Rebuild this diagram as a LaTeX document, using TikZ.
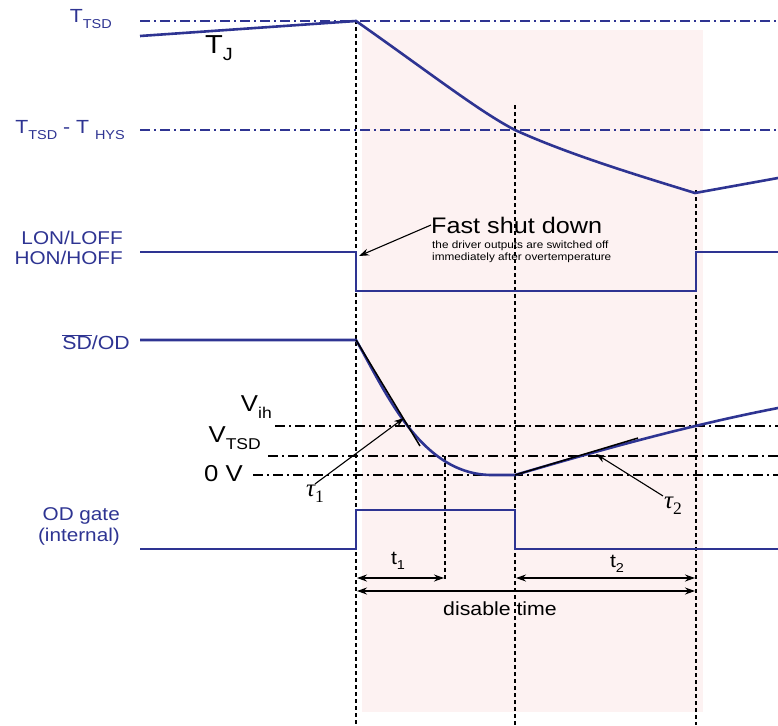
\documentclass[tikz,border=0pt]{standalone}
\usepackage{fontspec}
\setmainfont[FakeStretch=1.12]{Liberation Sans}
\newfontfamily\taufont{Liberation Serif}
\usetikzlibrary{arrows.meta}
\definecolor{tiblue}{RGB}{46,52,146}
\definecolor{offzone}{RGB}{253,242,242}
\newcommand{\lowsub}[2][0.68]{\raisebox{-0.28em}{\scalebox{#1}{#2}}}
\newcommand{\tauconst}[1]{{\taufont\itshape τ}\raisebox{-0.25em}{\scalebox{0.7}{\taufont #1}}}

\begin{document}
\begin{tikzpicture}[x=1pt, y=-1pt, >={Stealth[length=10pt,width=7pt]},
    wave/.style={draw=tiblue, line width=2.6pt},
    vline/.style={dash pattern=on 4pt off 3pt, line width=1.4pt},
    level/.style={dash pattern=on 10pt off 4pt on 2pt off 4pt, line width=1.4pt},
    sig/.style={text=tiblue, anchor=east, align=right, inner sep=0pt, font=\fontsize{19}{20}\selectfont},
    vlbl/.style={anchor=east, inner sep=0pt, font=\fontsize{23}{24}\selectfont},
    tlbl/.style={inner sep=0pt, font=\fontsize{19}{20}\selectfont}]
    \useasboundingbox (0,0) rectangle (778,725);
    % Vùng tắt (disable)
    \fill[offzone] (362,30) rectangle (703,712);
    % Các mức ngưỡng
    \draw[level, tiblue] (140,21) -- (778,21);
    \draw[level, tiblue] (140,130) -- (778,130);
    \draw[level] (275,426) -- (778,426);
    \draw[level] (268,456) -- (778,456);
    \draw[level] (253,475) -- (778,475);
    % Các mốc thời gian
    \draw[vline] (356,20) -- (356,725);
    \draw[vline] (515,105) -- (515,725);
    \draw[vline] (696,190) -- (696,725);
    \draw[vline] (445,456) -- (445,580);
    % Nhiệt độ T_J
    \draw[wave] (140,36) -- (356,21) .. controls (430,73) and (480,112) .. (515,130)
        .. controls (570,155) and (640,176) .. (695,193) -- (778,178);
    % LON/LOFF, HON/HOFF
    \draw[wave] (140,252) -- (356,252) -- (356,291) -- (696,291) -- (696,252) -- (778,252);
    % SD/OD
    \draw[wave] (140,340) -- (356,340) .. controls (385,390) and (420,475) .. (492,475) -- (515,475)
        .. controls (600,450) and (690,425) .. (778,408);
    \draw[line width=1.5pt] (356,340) -- (420,446);
    \draw[line width=1.5pt] (515,475) -- (638,438);
    % OD gate
    \draw[wave] (140,549) -- (356,549) -- (356,510) -- (515,510) -- (515,549) -- (778,549);
    % Nhãn bên trái
    \node[sig] (ttsd) at (112,19) {T\lowsub{TSD}};
    \node[sig] (thys) at (125,130) {T\lowsub{TSD} - T \lowsub{HYS}};
    \node[sig, font=\fontsize{18.5}{20}\selectfont] (lon) at (123,248) {LON/LOFF\\HON/HOFF};
    \node[sig] (sdod) at (130,342) {$\overline{\mbox{SD}}$/OD};
    \node[sig, font=\fontsize{18.5}{21}\selectfont] (odgate) at (120,526) {OD gate\\(internal)};
    \node[inner sep=0pt, font=\fontsize{26}{26}\selectfont] (tj) at (219,48) {T\lowsub{J}};
    \node[vlbl] (vih) at (272,407) {V\lowsub{ih}};
    \node[vlbl] (vtsd) at (261,438) {V\lowsub{TSD}};
    \node[vlbl] (zerov) at (243,474) {0 V};
    % Tắt nhanh
    \node[anchor=west, inner sep=0pt, font=\fontsize{22.5}{23}\selectfont] (fsd) at (431,225) {Fast shut down};
    \node[anchor=north west, align=left, inner sep=0pt, font=\fontsize{10.5}{11.5}\selectfont] (fsdnote)
        at (432,241) {the driver outputs are switched off\\immediately after overtemperature};
    \coordinate (lonfall) at (359,256);
    \draw[->, line width=1.1pt] (fsd.west) -- (lonfall);
    % Hằng số thời gian
    \node[inner sep=1pt, font=\fontsize{25}{25}\selectfont] (tau1) at (315,494) {\tauconst{1}};
    \node[inner sep=1pt, font=\fontsize{25}{25}\selectfont] (tau2) at (673,506) {\tauconst{2}};
    \coordinate (tau1tip) at (404,418);
    \coordinate (tau2tip) at (596,454);
    \draw[->, line width=1.1pt] (tau1.north) -- (tau1tip);
    \draw[->, line width=1.1pt] (tau2.north west) -- (tau2tip);
    % t1, t2, disable time
    \coordinate (t1a) at (357,578);
    \coordinate (t1b) at (444,578);
    \coordinate (t2a) at (516,578);
    \coordinate (t2b) at (695,578);
    \coordinate (da) at (357,591);
    \coordinate (db) at (695,591);
    \draw[<->, line width=1.1pt] (t1a) -- (t1b);
    \draw[<->, line width=1.1pt] (t2a) -- (t2b);
    \draw[<->, line width=1.1pt] (da) -- (db);
    \node[tlbl] (t1) at (398,561) {t\lowsub{1}};
    \node[tlbl] (t2) at (617,564) {t\lowsub{2}};
    \node[tlbl] (dis) at (500,609) {disable time};
\end{tikzpicture}
\end{document}
